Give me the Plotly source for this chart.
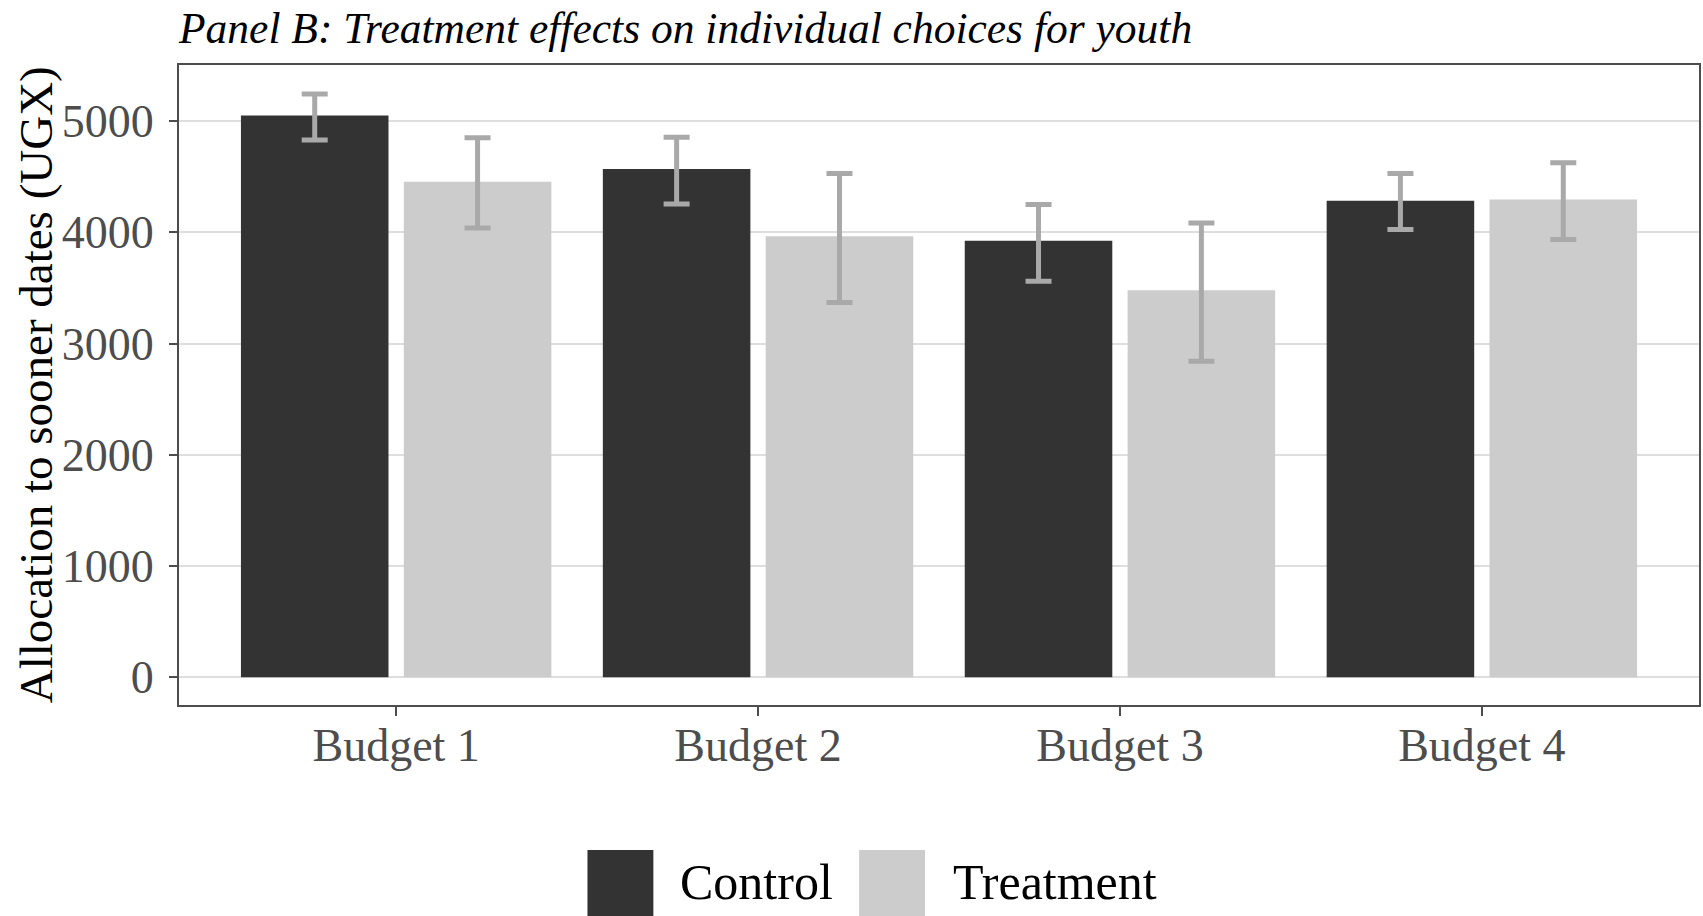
import plotly.graph_objects as go

# Mean allocation to sooner dates (UGX) with 95% CI bounds, by budget and arm
budgets = ["Budget 1", "Budget 2", "Budget 3", "Budget 4"]
control_mean = [5050, 4570, 3925, 4285]
control_lo = [4830, 4255, 3560, 4025]
control_hi = [5245, 4855, 4250, 4530]
treatment_mean = [4455, 3965, 3480, 4295]
treatment_lo = [4040, 3370, 2840, 3935]
treatment_hi = [4850, 4530, 4085, 4625]
y_ticks = [0, 1000, 2000, 3000, 4000, 5000]

DARK = "#333333"
LIGHT = "#cccccc"
ERR = "#a9a9a9"
FONT = "Liberation Serif"

W, H = 1703, 916
ML, MR, MT, MB = 179, 2, 65, 211
PW, PH = W - ML - MR, H - MT - MB


def px_x(px):
    return (px - ML) / PW


def px_y(py):
    return (H - MB - py) / PH


def err(mean, lo, hi):
    return dict(
        type="data",
        array=[h - m for m, h in zip(mean, hi)],
        arrayminus=[m - l for m, l in zip(mean, lo)],
        color=ERR,
        thickness=5,
        width=13,
        visible=True,
    )


fig = go.Figure()
fig.add_trace(go.Bar(
    x=budgets, y=control_mean, name="Control",
    marker=dict(color=DARK, line=dict(width=0)),
    error_y=err(control_mean, control_lo, control_hi),
    showlegend=False,
))
fig.add_trace(go.Bar(
    x=budgets, y=treatment_mean, name="Treatment",
    marker=dict(color=LIGHT, line=dict(width=0)),
    error_y=err(treatment_mean, treatment_lo, treatment_hi),
    showlegend=False,
))

fig.update_layout(
    width=W, height=H,
    margin=dict(l=ML, r=MR, t=MT, b=MB, pad=0),
    paper_bgcolor="white", plot_bgcolor="white",
    barmode="group", bargap=0.1, bargroupgap=0.094,
    font=dict(family=FONT, color="black"),
)

fig.update_xaxes(
    range=[-0.6, 3.6],
    showgrid=False,
    showline=True, mirror=True, linecolor="#4d4d4d", linewidth=2,
    ticks="outside", ticklen=9, tickwidth=2, tickcolor="#4d4d4d",
    tickfont=dict(family=FONT, size=46, color="#4d4d4d"),
    ticklabelstandoff=-10,
    zeroline=False,
)
fig.update_yaxes(
    range=[-250, 5505],
    tickvals=y_ticks,
    showgrid=True, gridcolor="#dedede", gridwidth=2,
    showline=True, mirror=True, linecolor="#4d4d4d", linewidth=2,
    ticks="outside", ticklen=8, tickwidth=2, tickcolor="#4d4d4d",
    tickfont=dict(family=FONT, size=46, color="#4d4d4d"),
    ticklabelstandoff=6,
    zeroline=False,
)

annotations = [
    dict(
        text="<i>Panel B: Treatment effects on individual choices for youth</i>",
        xref="paper", yref="paper", x=0, y=1, xanchor="left", yanchor="bottom",
        xshift=-3, yshift=11, showarrow=False,
        font=dict(family=FONT, size=43.5, color="black"),
    ),
    dict(
        text="Allocation to sooner dates (UGX)",
        xref="paper", yref="paper", x=px_x(36), y=0.5, xanchor="center", yanchor="middle",
        textangle=-90, showarrow=False,
        font=dict(family=FONT, size=47, color="black"),
    ),
]

# Legend drawn as large filled keys with labels below the panel
legend_items = [("Control", DARK, 588, 679), ("Treatment", LIGHT, 860, 952)]
shapes = []
for label, color, key_x, text_x in legend_items:
    shapes.append(dict(
        type="rect", xref="paper", yref="paper",
        x0=px_x(key_x), x1=px_x(key_x + 66), y0=px_y(916), y1=px_y(850),
        fillcolor=color, line=dict(width=0), layer="above",
    ))
    annotations.append(dict(
        text=label, xref="paper", yref="paper", x=px_x(text_x), y=px_y(882),
        xanchor="left", yanchor="middle", showarrow=False,
        font=dict(family=FONT, size=50, color="black"),
    ))

fig.update_layout(annotations=annotations, shapes=shapes)

fig.write_html("out.html")
